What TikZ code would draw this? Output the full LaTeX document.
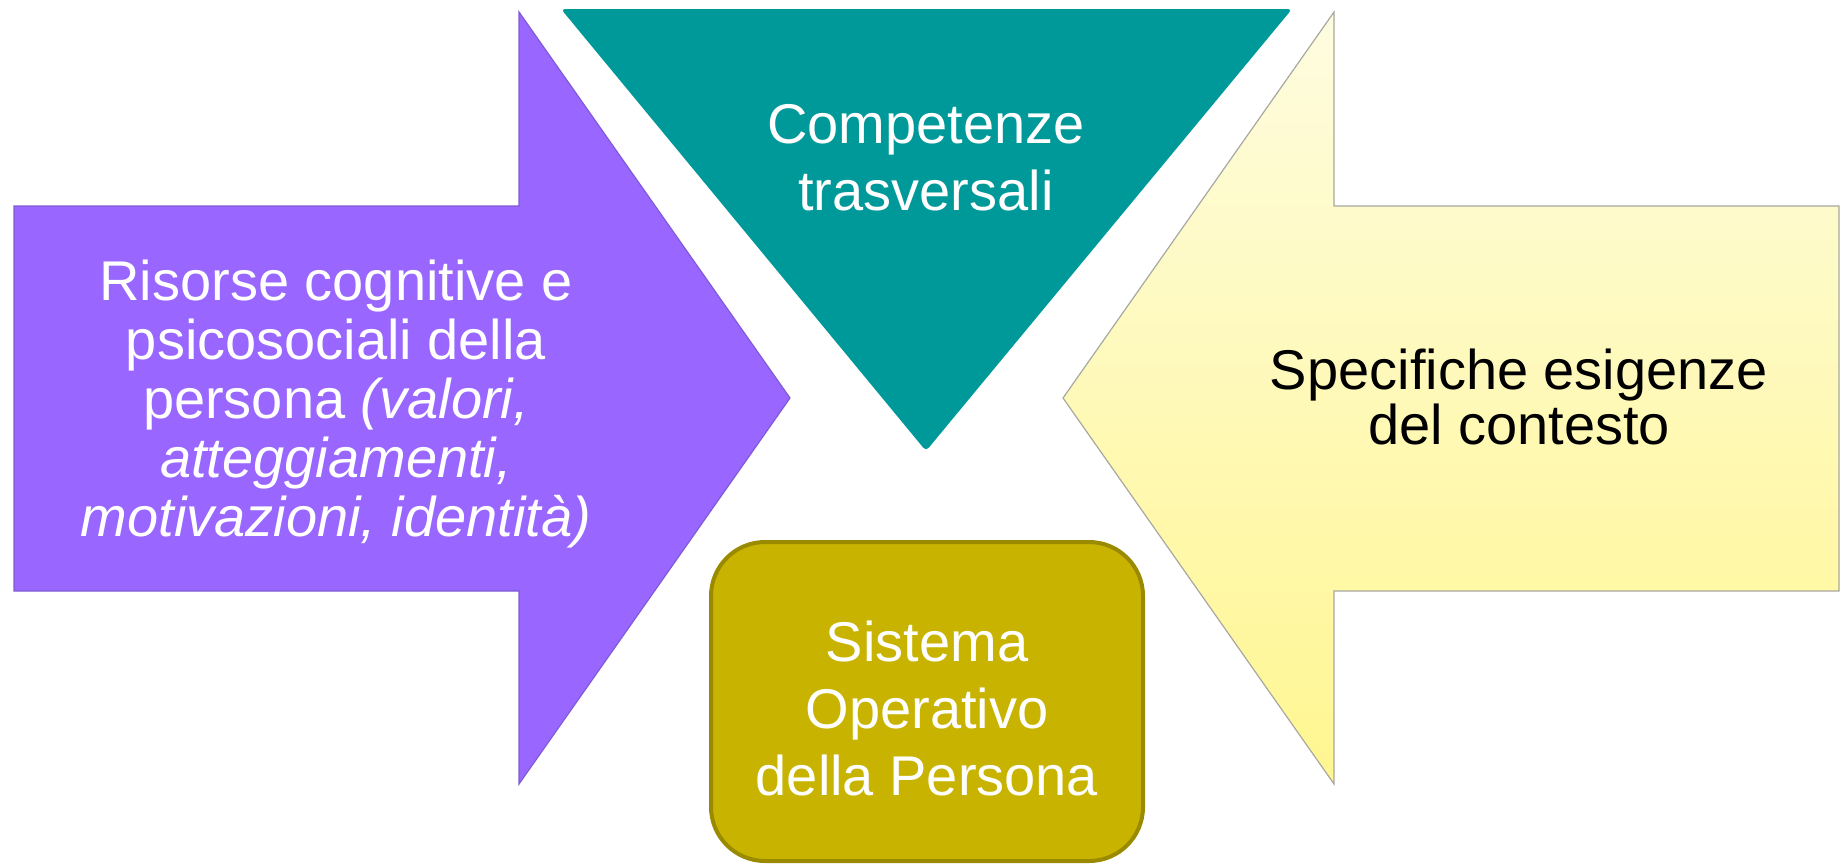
\documentclass[tikz,border=0pt]{standalone}
\usepackage{fontspec}
\setmainfont{Liberation Sans}
\definecolor{purp}{HTML}{9966FF}
\definecolor{purpline}{HTML}{7F5BD6}
\definecolor{teal2}{HTML}{009999}
\definecolor{olive}{HTML}{C8B400}
\definecolor{oliveline}{HTML}{9A8A00}
\definecolor{ytop}{HTML}{FEFCE0}
\definecolor{ybot}{HTML}{FFF690}
\definecolor{yline}{HTML}{A8A8A0}
\begin{document}
\begin{tikzpicture}[x=0.5pt,y=-0.5pt,
  txtS/.style={align=center,font=\fontsize{28}{29.5}\selectfont},
  txtR/.style={align=center,font=\fontsize{28}{27.8}\selectfont},
  txtL/.style={align=center,font=\fontsize{28}{33.5}\selectfont}]
\useasboundingbox (0,0) rectangle (1845,863);
% left arrow
\path[fill=purp,draw=purpline,line width=0.6pt] (14,206) -- (519,206) -- (519,12) -- (790,398) -- (519,784) -- (519,591) -- (14,591) -- cycle;
% right arrow
\path[top color=ytop,bottom color=ybot,draw=yline,line width=0.6pt] (1839,206) -- (1334,206) -- (1334,12) -- (1063,398) -- (1334,784) -- (1334,591) -- (1839,591) -- cycle;
% triangle
\path[fill=teal2,rounded corners=2pt] (561,9) -- (1292,9) -- (926,451) -- cycle;
% box
\path[fill=olive,draw=oliveline,line width=2pt,rounded corners=27pt] (711,542) rectangle (1143,861);
% texts
\node[txtS,text=white] (risorse) at (336,404) {Risorse cognitive e\\psicosociali della\\persona \textit{(valori,}\\\textit{atteggiamenti,}\\\textit{motivazioni, identità)}};
\node[txtR,text=black] (esigenze) at (1519,397) {Specifiche esigenze\\del contesto};
\node[txtL,text=white] (competenze) at (926,158) {Competenze\\trasversali};
\node[txtL,text=white] (sistema) at (927,708) {Sistema\\Operativo\\della Persona};
\end{tikzpicture}
\end{document}
